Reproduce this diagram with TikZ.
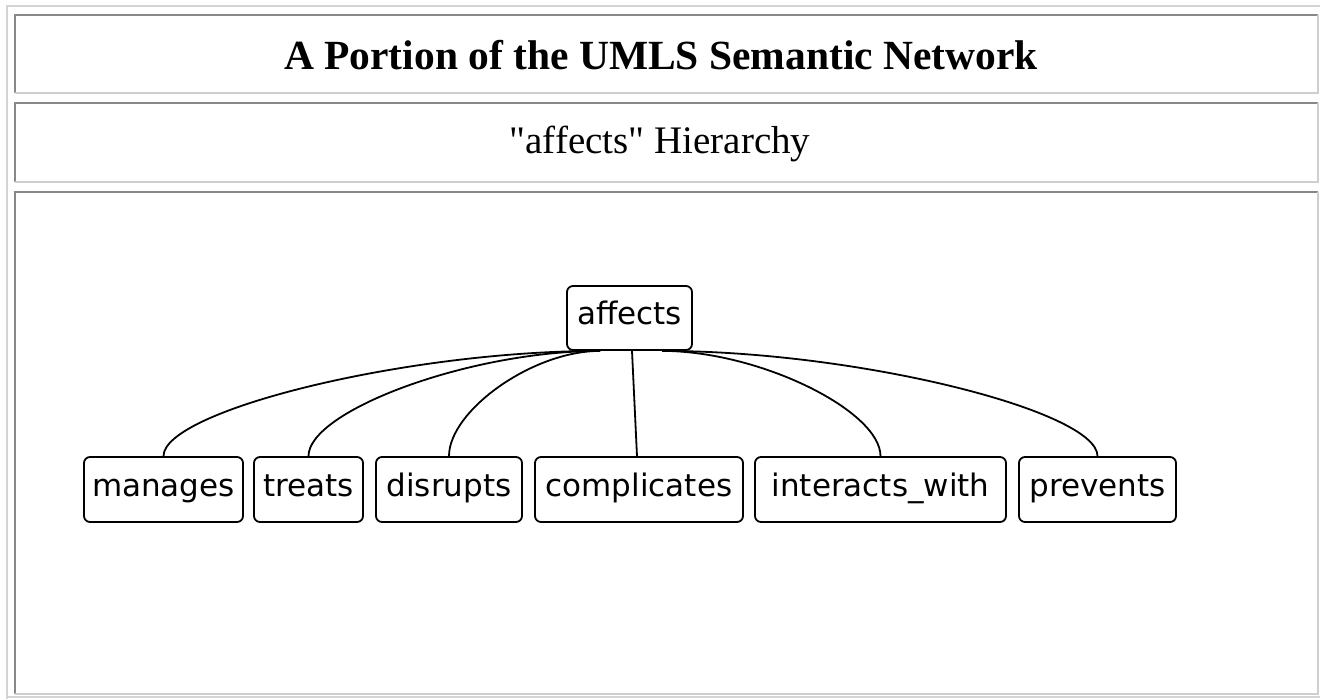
\documentclass[tikz,border=0pt]{standalone}
\usepackage{fontspec}
\setmainfont{Liberation Serif}
\newfontfamily\subfont{Liberation Serif}
\newfontfamily\nodefont{DejaVu Sans}
\definecolor{darkedge}{RGB}{136,136,136}
\definecolor{lightedge}{RGB}{206,206,206}
\definecolor{outeredge}{RGB}{212,212,212}
\tikzset{
  rel/.style={draw=black, line width=1.8pt, rounded corners=6pt, inner sep=0pt,
    minimum height=65pt, text height=22pt, text depth=9pt, fill=white,
    font=\nodefont\fontsize{31}{36}\selectfont},
  link/.style={draw=black, line width=1.8pt},
  shadeedge/.style={draw=darkedge, line width=2pt},
  lightline/.style={draw=lightedge, line width=2pt},
  outerline/.style={draw=outeredge, line width=2pt}
}
\begin{document}
\begin{tikzpicture}[x=1pt,y=-1pt]
\useasboundingbox (0,0) rectangle (1320,699);
\fill[white] (0,0) rectangle (1320,699);
% outer table border
\draw[outerline] (7,699) -- (7,6) -- (1320,6);
\draw[outerline] (7,697) -- (1320,697);
% cell 1
\draw[shadeedge] (15,93) -- (15,15) -- (1318,15);
\draw[lightline] (15,93) -- (1318,93) -- (1318,15);
% cell 2
\draw[shadeedge] (15,182) -- (15,103) -- (1318,103);
\draw[lightline] (15,182) -- (1318,182) -- (1318,103);
% cell 3
\draw[shadeedge] (15,694) -- (15,192) -- (1318,192);
\draw[lightline] (15,694) -- (1318,694) -- (1318,192);
% titles
\node[font=\bfseries\fontsize{41.5}{50}\selectfont, anchor=base, inner sep=0pt] (title) at (661,69) {A Portion of the UMLS Semantic Network};
\node[font=\subfont\fontsize{39}{46}\selectfont, anchor=base, inner sep=0pt] (subtitle) at (660,153) {"affects" Hierarchy};
% nodes
\node[rel, minimum width=125pt, minimum height=64pt] (affects) at (629.5,318) {affects};
\node[rel, minimum width=159pt] (manages) at (163.5,489.5) {manages};
\node[rel, minimum width=109pt] (treats) at (308.5,489.5) {treats};
\node[rel, minimum width=146pt] (disrupts) at (449,489.5) {disrupts};
\node[rel, minimum width=208pt] (complicates) at (639,489.5) {complicates};
\node[rel, minimum width=251pt] (interacts) at (880.5,489.5) {interacts\_with};
\node[rel, minimum width=157pt] (prevents) at (1097.5,489.5) {prevents};
% connectors
\draw[link] (manages.north) .. controls +(0,-45) and +(-196,0) .. ([xshift=-29.5pt]affects.south);
\draw[link] (treats.north) .. controls +(0,-45) and +(-131,0) .. ([xshift=-29.5pt]affects.south);
\draw[link] (disrupts.north) .. controls +(0,-45) and +(-68,0) .. ([xshift=-29.5pt]affects.south);
\draw[link] ([xshift=2.5pt]affects.south) -- ([xshift=-2pt]complicates.north);
\draw[link] (interacts.north) .. controls +(0,-45) and +(98,0) .. ([xshift=32.5pt]affects.south);
\draw[link] (prevents.north) .. controls +(0,-45) and +(196,0) .. ([xshift=32.5pt]affects.south);
\end{tikzpicture}
\end{document}
